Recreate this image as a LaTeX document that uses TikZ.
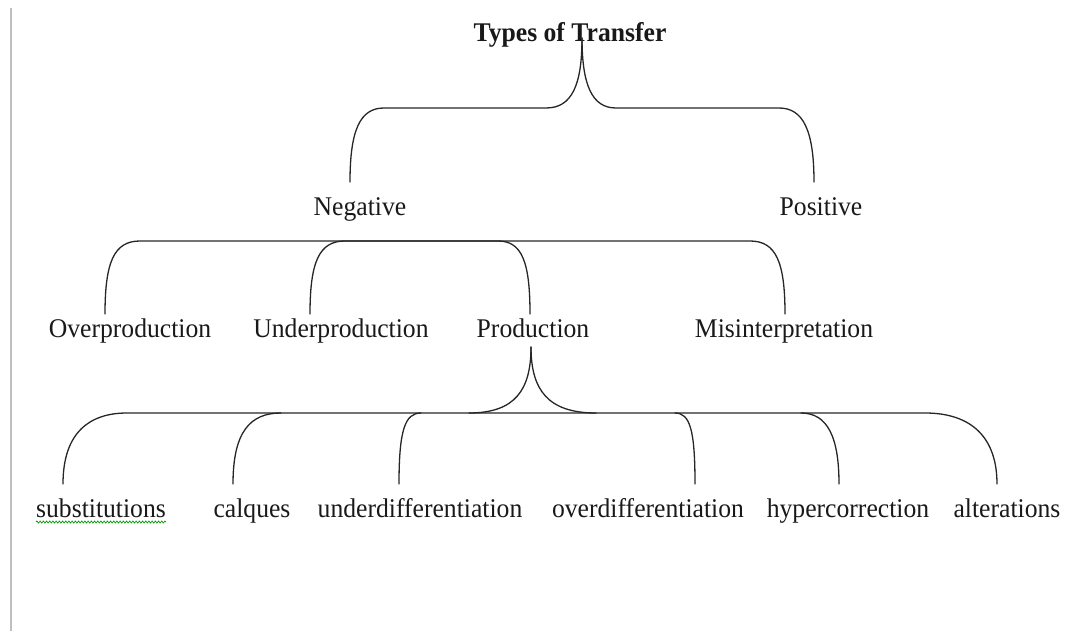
\documentclass[tikz,border=0pt]{standalone}
\usepackage{fontspec}
\setmainfont{Liberation Serif}[FakeStretch=0.95]
\usetikzlibrary{decorations.pathmorphing}
\begin{document}
\begin{tikzpicture}[x=1pt,y=-1pt,
  lbl/.style={anchor=base,inner sep=0pt,font=\fontsize{27}{32}\selectfont,text=black!90},
  brace/.style={draw=black!85,line width=1.3pt,line cap=round},
  margin/.style={draw=black!25,line width=2.5pt}]
\useasboundingbox (0,0) rectangle (1074,631);
\draw[margin] (11,8) -- (11,631);

% texts
\node[lbl,font=\fontsize{27}{32}\selectfont\bfseries] (title) at (570,42) {Types of Transfer};
\node[lbl] (neg) at (360,216) {Negative};
\node[lbl] (pos) at (821,216) {Positive};
\node[lbl] (over) at (130,337) {Overproduction};
\node[lbl] (under) at (341,337) {Underproduction};
\node[lbl] (prod) at (533,337) {Production};
\node[lbl] (mis) at (784,337) {Misinterpretation};
\node[lbl] (subs) at (101,517) {substitutions};
\node[lbl] (calq) at (252,517) {calques};
\node[lbl] (udiff) at (420,517) {underdifferentiation};
\node[lbl] (odiff) at (648,517) {overdifferentiation};
\node[lbl] (hyper) at (848,517) {hypercorrection};
\node[lbl] (alt) at (1007,517) {alterations};

% spell-check squiggle
\draw[green!60!black,line width=0.7pt,decorate,decoration={snake,amplitude=1pt,segment length=3.2pt}]
  (subs.base west) ++(0,5) coordinate (sqA) -- (sqA -| subs.base east);

% connector end points
\coordinate (tT) at (582,38);
\coordinate (eNeg) at (350,182);
\coordinate (ePos) at (814,182);
\coordinate (eOver) at (105,314);
\coordinate (eUnder) at (310,314);
\coordinate (eProdT) at (530,314);
\coordinate (eMis) at (785,314);
\coordinate (tProd) at (531,347);
\coordinate (eSubs) at (63,484);
\coordinate (eCalq) at (233,484);
\coordinate (eUdiff) at (399,484);
\coordinate (eOdiff) at (695,484);
\coordinate (eHyper) at (839,484);
\coordinate (eAlt) at (997,484);

% top brace
\draw[brace] (tT) .. controls (582,85) and (572,108) .. (546,108) -- (384,108)
  .. controls (360,108) and (350,130) .. (eNeg);
\draw[brace] (tT) .. controls (582,85) and (592,108) .. (616,108) -- (779,108)
  .. controls (803,108) and (814,130) .. (ePos);

% middle braces
\draw[brace] (eOver) .. controls (105,262) and (114,241) .. (140,241) -- (750,241)
  .. controls (776,241) and (785,262) .. (eMis);
\draw[brace] (eUnder) .. controls (310,262) and (319,241) .. (345,241) -- (498,241)
  .. controls (522,241) and (530,262) .. (eProdT);

% bottom brace
\draw[brace] (tProd) .. controls (531,390) and (515,413) .. (469,413);
\draw[brace] (tProd) .. controls (531,390) and (548,413) .. (596,413);
\draw[brace] (eSubs) .. controls (63,432) and (90,413) .. (127,413) -- (925,413)
  .. controls (972,413) and (997,438) .. (eAlt);
\draw[brace] (eCalq) .. controls (233,432) and (250,413) .. (281,413);
\draw[brace] (eUdiff) .. controls (399,430) and (405,413) .. (421,413);
\draw[brace] (675,413) .. controls (690,413) and (695,430) .. (eOdiff);
\draw[brace] (801,413) .. controls (828,413) and (839,438) .. (eHyper);
\end{tikzpicture}
\end{document}
